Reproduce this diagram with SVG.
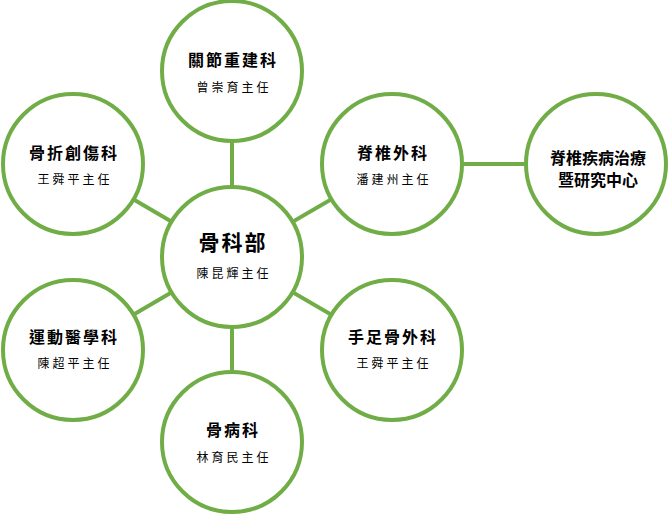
<svg xmlns="http://www.w3.org/2000/svg" width="670" height="514" viewBox="0 0 670 514">
<style>
.c{fill:#fff;stroke:#70AD47;stroke-width:4}
.l{stroke:#70AD47;stroke-width:4;fill:none}
.t{font-family:"Noto Sans CJK TC","Noto Sans CJK SC",sans-serif;font-weight:bold;font-size:16px;fill:#000;text-anchor:middle;letter-spacing:2px}
.s{font-family:"Noto Sans CJK TC","Noto Sans CJK SC",sans-serif;font-size:12px;fill:#000;text-anchor:middle;letter-spacing:3px}
.big{font-size:21px}
</style>
<rect width="670" height="514" fill="#fff"/>
<g id="connectors">
<line class="l" x1="232" y1="257" x2="232" y2="71"/>
<line class="l" x1="232" y1="257" x2="232" y2="442"/>
<line class="l" x1="232" y1="257" x2="73" y2="164"/>
<line class="l" x1="232" y1="257" x2="392" y2="164"/>
<line class="l" x1="232" y1="257" x2="73" y2="350"/>
<line class="l" x1="232" y1="257" x2="392" y2="350"/>
<line class="l" x1="392" y1="164" x2="596" y2="164"/>
</g>
<g id="center"><circle class="c" cx="232" cy="257" r="70"/><text class="t big" x="233" y="250">骨科部</text><text class="s" x="234" y="278">陳昆輝主任</text></g>
<g id="top"><circle class="c" cx="232" cy="71" r="70"/><text class="t" x="233" y="66">關節重建科</text><text class="s" x="234" y="92">曾崇育主任</text></g>
<g id="righttop"><circle class="c" cx="392" cy="164" r="70"/><text class="t" x="393" y="159">脊椎外科</text><text class="s" x="394" y="184">潘建州主任</text></g>
<g id="farright"><circle class="c" cx="596" cy="164" r="70"/><text class="t" x="598" y="164" style="letter-spacing:0">脊椎疾病治療</text><text class="t" x="598" y="186" style="letter-spacing:0">暨研究中心</text></g>
<g id="lefttop"><circle class="c" cx="73" cy="164" r="70"/><text class="t" x="74" y="159">骨折創傷科</text><text class="s" x="75" y="184">王舜平主任</text></g>
<g id="leftbottom"><circle class="c" cx="73" cy="350" r="70"/><text class="t" x="74" y="343">運動醫學科</text><text class="s" x="75" y="368">陳超平主任</text></g>
<g id="rightbottom"><circle class="c" cx="392" cy="350" r="70"/><text class="t" x="393" y="343">手足骨外科</text><text class="s" x="394" y="368">王舜平主任</text></g>
<g id="bottom"><circle class="c" cx="232" cy="442" r="70"/><text class="t" x="233" y="436">骨病科</text><text class="s" x="234" y="462">林育民主任</text></g>
</svg>
